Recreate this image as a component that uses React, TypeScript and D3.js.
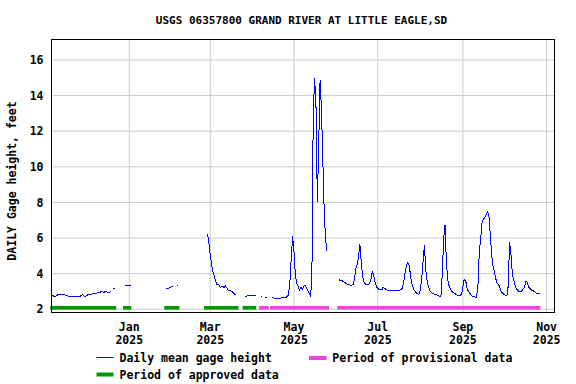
import React from "react";
import * as d3 from "d3";

const TITLE = "USGS 06357800 GRAND RIVER AT LITTLE EAGLE,SD";
const Y_LABEL = "DAILY Gage height, feet";
const LEGEND_LINE = "Daily mean gage height";
const LEGEND_APPROVED = "Period of approved data";
const LEGEND_PROVISIONAL = "Period of provisional data";

const yTicks = [2, 4, 6, 8, 10, 12, 14, 16];
const xTickDates = ["2025-01-01", "2025-03-01", "2025-05-01", "2025-07-01", "2025-09-01", "2025-11-01"];
const xTickMonths = ["Jan", "Mar", "May", "Jul", "Sep", "Nov"];
const xTickYears = ["2025", "2025", "2025", "2025", "2025", "2025"];

const xDomain = ["2024-11-05", "2025-11-06"];
const yDomain = [1.82, 17.15];

// Daily mean gage height, feet: [first day, daily values]
const segA: [string, number[]] = ["2024-11-05", [
  2.80, 2.80, 2.74, 2.71, 2.76, 2.82, 2.84, 2.84, 2.84, 2.84,
  2.82, 2.77, 2.77, 2.72, 2.72, 2.74, 2.71, 2.71, 2.71, 2.71,
  2.71, 2.72, 2.78, 2.84, 2.74, 2.71, 2.76, 2.84, 2.84, 2.85,
  2.86, 2.90, 2.90, 2.90, 2.92, 2.96, 2.97, 3.00, 2.96, 2.97,
  3.00, 2.96, 2.95, 2.97, 3.00]];
const segB: [string, number[]] = ["2024-12-21", [3.14]];
const segC: [string, number[]] = ["2024-12-29", [3.31, 3.34, 3.36, 3.35, 3.31]];
const segD: [string, number[]] = ["2025-01-28", [3.18, 3.18, 3.20, 3.24, 3.27, 3.29]];
const segD2: [string, number[]] = ["2025-02-05", [3.35]];
const segE: [string, number[]] = ["2025-02-27", [
  6.23, 5.70, 5.05, 4.49, 4.11, 3.83, 3.55, 3.36, 3.40, 3.25,
  3.25, 3.29, 3.23, 3.32, 3.21, 3.06, 3.03, 3.03, 2.99, 2.90,
  2.84, 2.84]];
const segF: [string, number[]] = ["2025-03-26", [2.74, 2.74, 2.75, 2.75, 2.75, 2.75, 2.76, 2.76, 2.76]];
const segG: [string, number[]] = ["2025-04-07", [2.72, 2.72]];
const segH: [string, number[]] = ["2025-04-10", [2.68, 2.68]];
const segI: [string, number[]] = ["2025-04-15", [
  2.67, 2.64, 2.62, 2.62, 2.62, 2.62, 2.62, 2.65, 2.67, 2.67,
  2.68, 2.70, 2.82, 3.55, 4.90, 6.10, 5.20, 3.90, 3.46, 3.27,
  3.10, 3.25, 3.10, 3.30, 3.36, 3.20, 3.05, 2.90, 2.76, 3.60,
  12.90, 15.00, 13.50, 8.00, 11.30, 14.90, 13.20, 10.30, 7.50, 5.90,
  5.30]];
const segJ: [string, number[]] = ["2025-06-03", [
  3.65, 3.62, 3.60, 3.55, 3.50, 3.45, 3.40, 3.38, 3.36, 3.36,
  3.40, 3.65, 4.30, 4.50, 4.96, 5.65, 4.60, 3.83, 3.55, 3.40,
  3.36, 3.38, 3.45, 3.65, 4.11, 3.93, 3.55, 3.27, 3.18, 3.10,
  3.10, 3.10, 3.25, 3.18, 3.10, 3.08, 3.08, 3.08, 3.08, 3.08,
  3.08, 3.08, 3.08, 3.08, 3.08, 3.10, 3.20, 3.60, 4.10, 4.50,
  4.62, 4.45, 3.80, 3.40, 3.15, 3.03, 2.92, 2.86, 2.84, 3.10,
  3.70, 4.70, 5.60, 4.20, 3.55, 3.24, 3.05, 2.95, 2.90, 2.86,
  2.84, 2.80, 2.77, 2.74, 2.70, 4.00, 6.00, 6.74, 4.60, 3.65,
  3.30, 3.15, 3.00, 2.93, 2.88, 2.84, 2.80, 2.79, 2.79, 2.85,
  3.25, 3.70, 3.62, 3.20, 3.00, 2.90, 2.80, 2.72, 2.70, 2.69,
  2.69, 3.40, 5.30, 6.00, 6.90, 7.05, 7.15, 7.30, 7.48, 7.20,
  6.17, 5.00, 4.40, 4.10, 3.70, 3.45, 3.40, 3.20, 3.00, 2.90,
  2.82, 2.78, 2.75, 3.30, 5.80, 5.10, 4.00, 3.65, 3.35, 3.15,
  3.05, 2.99, 2.99, 3.05, 3.15, 3.25, 3.60, 3.50, 3.24, 3.15,
  3.08, 3.05, 2.99, 2.93, 2.90, 2.90, 2.90]];

const gageSegments = [segA, segB, segC, segD, segD2, segE, segF, segG, segH, segI, segJ];

const approvedPeriods: [string, string][] = [
  ["2024-11-05", "2024-12-22"],
  ["2024-12-28", "2025-01-02"],
  ["2025-01-27", "2025-02-06"],
  ["2025-02-25", "2025-03-21"],
  ["2025-03-25", "2025-04-03"],
];
const provisionalPeriods: [string, string][] = [
  ["2025-04-06", "2025-04-12"],
  ["2025-04-14", "2025-05-26"],
  ["2025-06-02", "2025-10-27"],
];

const FONT = "'DejaVu Sans Mono', 'Liberation Mono', monospace";
const BLUE = "#0000ff";
const GREEN = "#009900";
const MAGENTA = "#ee44dd";
const GRID = "#cccccc";

export default function App() {
  const W = 576, H = 384;
  const left = 51.5, right = 554.5, top = 39.5, bottom = 312.5;
  const parse = d3.utcParse("%Y-%m-%d")!;
  const x = d3.scaleUtc()
    .domain(xDomain.map((s) => parse(s) as Date))
    .range([51, 553.5]);
  const y = d3.scaleLinear().domain(yDomain).range([bottom, top]);

  const line = d3.line<[Date, number]>()
    .x((d) => x(d[0]))
    .y((d) => y(d[1]));

  const paths = gageSegments.map(([start, vals], i) => {
    const s = parse(start) as Date;
    const pts: [Date, number][] = vals.map((v, k) => [d3.utcDay.offset(s, k), v]);
    let dStr: string;
    if (pts.length === 1) {
      const px = x(pts[0][0]);
      const py = y(pts[0][1]);
      dStr = `M${px - 0.7},${py}H${px + 0.7}`;
    } else {
      dStr = line(pts) || "";
    }
    return <path key={i} d={dStr} fill="none" stroke={BLUE} strokeWidth={1} shapeRendering="crispEdges" />;
  });

  const half = (dt: Date, h: number) => d3.utcHour.offset(dt, h);
  const barY = y(2) - 3.3;
  const barH = 3.6;
  const bars = (periods: [string, string][], color: string, key: string) =>
    periods.map(([a, b], i) => {
      const x0 = x(half(parse(a) as Date, -12));
      const x1 = x(half(parse(b) as Date, 12));
      return <rect key={key + i} x={x0} y={barY} width={x1 - x0} height={barH} fill={color} />;
    });

  return (
    <svg width={W} height={H} style={{ position: "absolute", left: 0, top: 0, background: "#fff" }}
      fontFamily={FONT} fontWeight="bold">
      <rect x={0} y={0} width={W} height={H} fill="#fff" />
      <text x={301.5} y={24} textAnchor="middle" fontSize={11} fill="#000">{TITLE}</text>

      {/* grid */}
      {yTicks.map((t) => (
        <line key={"gy" + t} x1={left} x2={right} y1={y(t)} y2={y(t)} stroke={GRID} strokeWidth={1} />
      ))}
      {xTickDates.map((s) => {
        const xx = x(parse(s) as Date);
        return <line key={"gx" + s} x1={xx} x2={xx} y1={top} y2={bottom} stroke={GRID} strokeWidth={1} />;
      })}

      {bars(approvedPeriods, GREEN, "ap")}
      {bars(provisionalPeriods, MAGENTA, "pr")}

      <g>{paths}</g>

      <rect x={left} y={top} width={right - left} height={bottom - top} fill="none" stroke="#000" strokeWidth={1} />

      {/* y ticks */}
      {yTicks.map((t) => (
        <text key={"ty" + t} x={43.5} y={y(t)} dy="0.36em" textAnchor="end" fontSize={11.5} fill="#000">{t}</text>
      ))}
      <text transform={`translate(16,181) rotate(-90)`} textAnchor="middle" fontSize={11.5} fill="#000">{Y_LABEL}</text>

      {/* x ticks */}
      {xTickDates.map((s, i) => {
        const xx = x(parse(s) as Date);
        return (
          <g key={"tx" + s}>
            <text x={xx} y={330.5} textAnchor="middle" fontSize={11.5} fill="#000">{xTickMonths[i]}</text>
            <text x={xx} y={344} textAnchor="middle" fontSize={11.5} fill="#000">{xTickYears[i]}</text>
          </g>
        );
      })}

      {/* legend */}
      <line x1={96.5} x2={113.5} y1={357.5} y2={357.5} stroke={BLUE} strokeWidth={1} />
      <text x={119.5} y={362} fontSize={11.5} fill="#000">{LEGEND_LINE}</text>
      <rect x={309} y={356} width={17.5} height={4} fill={MAGENTA} />
      <text x={332.3} y={362} fontSize={11.5} fill="#000">{LEGEND_PROVISIONAL}</text>
      <rect x={96.5} y={372.5} width={17} height={4} fill={GREEN} />
      <text x={119.5} y={378.5} fontSize={11.5} fill="#000">{LEGEND_APPROVED}</text>
    </svg>
  );
}
